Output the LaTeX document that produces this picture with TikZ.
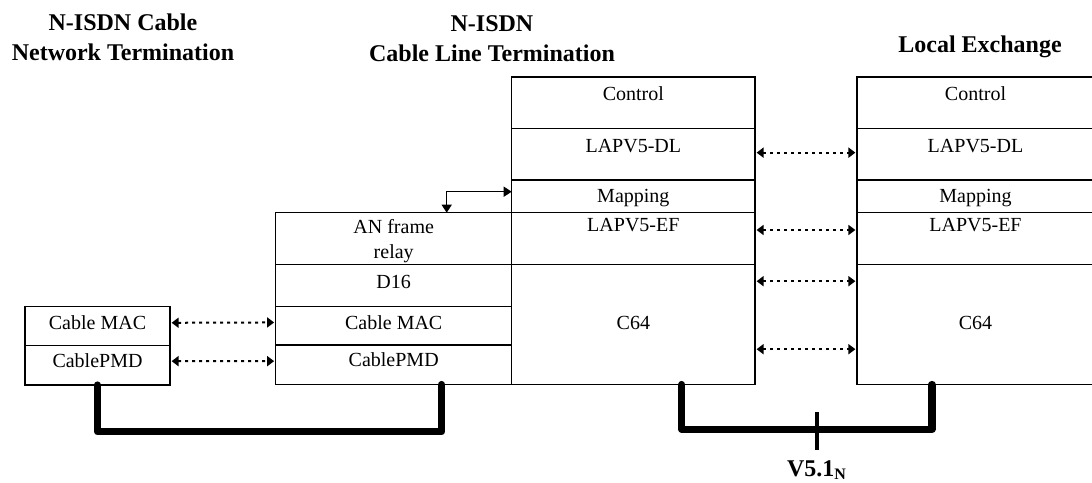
\documentclass[tikz,border=0pt]{standalone}
\usepackage{fontspec}
\setmainfont{Liberation Serif}
\usetikzlibrary{arrows.meta,calc}
\tikzset{
  lbox/.style={draw, line width=0.75pt, inner sep=0pt, outer sep=0pt},
  ltext/.style={font=\fontsize{10}{12.5}\selectfont, inner sep=0pt, anchor=base, align=center},
  ttl/.style={font=\fontsize{12}{15}\selectfont\bfseries, inner sep=0pt, align=center},
  dotarrow/.style={line width=1pt, dash pattern=on 1.5pt off 2pt,
    {Triangle[length=3.5pt,width=5pt]}-{Triangle[length=3.5pt,width=5pt]},
    shorten <=0.8pt, shorten >=0.8pt},
  maparrow/.style={line width=0.75pt,
    {Triangle[length=4pt,width=5pt]}-{Triangle[length=4pt,width=5pt]}},
  bus/.style={line width=3.6pt, line cap=round, line join=round},
  tickmark/.style={line width=2pt},
}
\newcommand\lyr[7]{%
  \node[lbox, minimum width={(#4-#2)*0.5pt}, minimum height={(#5-#3)*0.5pt}, anchor=north west] (#1) at (#2,#3) {};
  \node[ltext] (#1-t) at ({(#2+#4)/2},#7) {#6};}
\begin{document}
\begin{tikzpicture}[x=0.5pt,y=-0.5pt]
\useasboundingbox (0,0) rectangle (1092,482);
% titles
\node[ttl, anchor=north] (ntt) at (123,13) {N-ISDN Cable\\Network Termination};
\node[ttl, anchor=north] (cltt) at (492,15) {N-ISDN\\Cable Line Termination};
\node[ttl, anchor=north] (let) at (980,35) {Local Exchange};
% NT
\lyr{ntmac}{25}{306.7}{170}{345.7}{Cable MAC}{329.5}
\lyr{ntpmd}{25}{345.7}{170}{385}{CablePMD}{367.5}
% CLT lower stack
\lyr{anr}{275.7}{212.7}{511.7}{264.3}{AN frame\\relay}{258.5}
\lyr{d16}{275.7}{264.3}{511.7}{306.7}{D16}{288.5}
\lyr{cmac}{275.7}{306.7}{511.7}{345}{Cable MAC}{329.5}
\lyr{cpmd}{275.7}{345}{511.7}{384.5}{CablePMD}{366.5}
% CLT upper stack
\lyr{uctl}{511.7}{77}{755}{128.5}{Control}{100.5}
\lyr{udl}{511.7}{128.5}{755}{180}{LAPV5-DL}{152.5}
\lyr{umap}{511.7}{180}{755}{212.7}{Mapping}{202.5}
\lyr{uef}{511.7}{212.7}{755}{264.3}{LAPV5-EF}{231.5}
\lyr{uc64}{511.7}{264.3}{755}{384.5}{C64}{329}
% LE stack
\lyr{lctl}{857}{77}{1094}{128.5}{Control}{100.5}
\lyr{ldl}{857}{128.5}{1094}{180}{LAPV5-DL}{152.5}
\lyr{lmap}{857}{180}{1094}{212.7}{Mapping}{202.5}
\lyr{lef}{857}{212.7}{1094}{264.3}{LAPV5-EF}{231.5}
\lyr{lc64}{857}{264.3}{1094}{384.5}{C64}{329}
% mapping arrow
\coordinate (mapc) at (446.7,191.7);
\draw[maparrow] (anr.north -| mapc) -- (mapc) -- (mapc -| umap.west);
% dotted peer arrows
\draw[dotarrow] ([yshift=1.7pt]ntmac.east) -- ([yshift=1.7pt]cmac.west);
\draw[dotarrow] ([yshift=2.1pt]ntpmd.east) -- ([yshift=1.8pt]cpmd.west);
\draw[dotarrow] ([yshift=0.8pt]udl.east) -- ([yshift=0.8pt]ldl.west);
\draw[dotarrow] ([yshift=4.25pt]uef.east) -- ([yshift=4.25pt]lef.west);
\draw[dotarrow] ([yshift=21.6pt]uc64.east) -- ([yshift=21.6pt]lc64.west);
\draw[dotarrow] ([yshift=-12.4pt]uc64.east) -- ([yshift=-12.4pt]lc64.west);
% buses
\draw[bus] (ntpmd.south) -- ++(0,46.7) -| ([xshift=24pt]cpmd.south);
\draw[bus] ([xshift=24.25pt]uc64.south) -- ++(0,44.8) -| ([xshift=-21.75pt]lc64.south);
\coordinate (v5top) at (816.7,412);
\coordinate (v5bot) at (816.7,450);
\draw[tickmark] (v5top) -- (v5bot);
\node[ttl, anchor=base] (v5) at (817,476) {V5.1\textsubscript{N}};
\end{tikzpicture}
\end{document}
